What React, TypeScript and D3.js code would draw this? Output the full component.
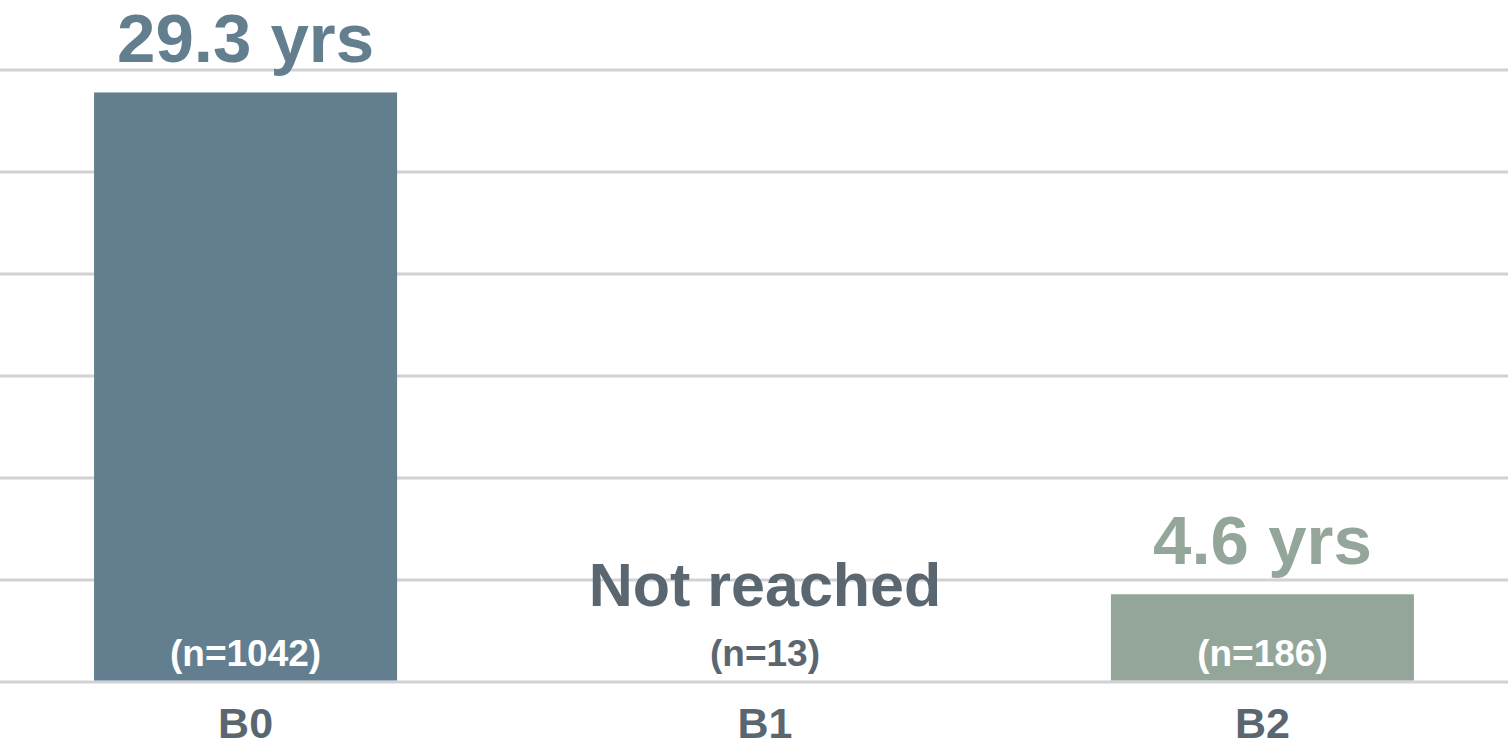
import { useRef, useEffect } from 'react';
import * as d3 from 'd3';

// Chart data
const categories = ['B0', 'B1', 'B2'];
const barValues = [28.9, 0, 4.3];
const valueLabels = ['29.3 yrs', 'Not reached', '4.6 yrs'];
const countLabels = ['(n=1042)', '(n=13)', '(n=186)'];
const yTicks = [0, 5, 10, 15, 20, 25, 30];

const barColors = ['#627e8f', 'none', '#94a699'];
const valueColors = ['#627e8f', '#5a6670', '#94a699'];
const countColors = ['#ffffff', '#5a6670', '#ffffff'];

const WIDTH = 1508;
const HEIGHT = 756;

export default function App() {
  const svgRef = useRef<SVGSVGElement>(null);

  useEffect(() => {
    if (!svgRef.current) return;
    const svg = d3.select(svgRef.current);
    svg.selectAll('*').remove();

    const font = '"Liberation Sans", Arial, sans-serif';

    const xScale = d3
      .scaleBand()
      .domain(categories)
      .range([0, WIDTH])
      .paddingInner(0.404)
      .paddingOuter(0.185);

    const yScale = d3.scaleLinear().domain([0, 30]).range([682, 70]);

    // Grid lines
    svg
      .append('g')
      .selectAll('line')
      .data(yTicks)
      .join('line')
      .attr('x1', 0)
      .attr('x2', WIDTH)
      .attr('y1', (d) => yScale(d))
      .attr('y2', (d) => yScale(d))
      .attr('stroke', '#d2d2d6')
      .attr('stroke-width', 3);

    const rows = categories.map((c, i) => ({
      cat: c,
      value: barValues[i],
      label: valueLabels[i],
      count: countLabels[i],
      i,
    }));

    // Bars
    svg
      .append('g')
      .selectAll('rect')
      .data(rows.filter((d) => d.value > 0))
      .join('rect')
      .attr('x', (d) => xScale(d.cat) || 0)
      .attr('y', (d) => yScale(d.value))
      .attr('width', xScale.bandwidth())
      .attr('height', (d) => yScale(0) - yScale(d.value) - 1.5)
      .attr('fill', (d) => barColors[d.i]);

    // text for an empty bar sits a touch right of the band centre in the original
    const cx = (d: { cat: string; value: number }) =>
      (xScale(d.cat) || 0) + xScale.bandwidth() / 2 + (d.value > 0 ? 0 : 11);

    // Value labels above bars
    svg
      .append('g')
      .selectAll('text')
      .data(rows)
      .join('text')
      .attr('x', cx)
      .attr('y', (d) => (d.value > 0 ? yScale(d.value) - 30 : yScale(0) - 76))
      .attr('text-anchor', 'middle')
      .attr('font-family', font)
      .attr('font-weight', 'bold')
      .attr('font-size', (d) => (d.value > 0 ? 69 : 61))
      .attr('fill', (d) => valueColors[d.i])
      .text((d) => d.label);

    // Count labels
    svg
      .append('g')
      .selectAll('text')
      .data(rows)
      .join('text')
      .attr('x', cx)
      .attr('y', 666)
      .attr('text-anchor', 'middle')
      .attr('font-family', font)
      .attr('font-weight', 'bold')
      .attr('font-size', 37)
      .attr('fill', (d) => countColors[d.i])
      .text((d) => d.count);

    // Category labels
    svg
      .append('g')
      .selectAll('text')
      .data(rows)
      .join('text')
      .attr('x', cx)
      .attr('y', 738)
      .attr('text-anchor', 'middle')
      .attr('font-family', font)
      .attr('font-weight', 'bold')
      .attr('font-size', 43)
      .attr('fill', '#5a6670')
      .text((d) => d.cat);
  }, []);

  return (
    <div style={{ position: 'absolute', left: 0, top: 0, width: WIDTH, height: HEIGHT, background: '#fff' }}>
      <svg ref={svgRef} width={WIDTH} height={HEIGHT} style={{ display: 'block' }} />
    </div>
  );
}
